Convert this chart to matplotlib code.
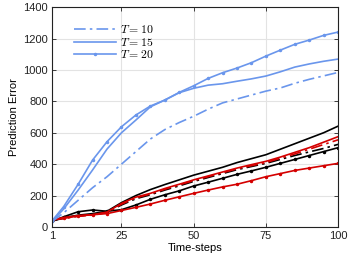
import matplotlib
matplotlib.use("Agg")
import matplotlib.pyplot as plt

t = [1, 5, 10, 15, 20, 25, 30, 35, 40, 45, 50, 55, 60, 65, 70, 75, 80, 85, 90, 95, 100]

blue_T10 = [35, 90, 170, 250, 320, 400, 480, 560, 620, 665, 705, 750, 790, 815, 840, 865, 885, 915, 940, 962, 984]
blue_T15 = [35, 115, 235, 363, 496, 600, 681, 765, 808, 855, 883, 903, 912, 928, 943, 961, 988, 1018, 1038, 1055, 1069]
blue_T20 = [40, 130, 272, 426, 543, 638, 713, 770, 808, 857, 899, 946, 982, 1012, 1046, 1088, 1126, 1163, 1190, 1220, 1241]

black_T10 = [40, 55, 70, 80, 95, 140, 180, 205, 235, 262, 290, 315, 340, 365, 385, 405, 430, 455, 478, 500, 526]
black_T15 = [40, 60, 75, 85, 100, 155, 200, 238, 270, 300, 330, 355, 380, 410, 435, 460, 495, 530, 565, 600, 642]
black_T20 = [35, 65, 97, 108, 100, 110, 140, 176, 205, 230, 261, 285, 310, 335, 357, 380, 405, 430, 455, 480, 505]

red_T10 = [45, 55, 68, 76, 92, 145, 185, 210, 240, 268, 295, 320, 345, 370, 390, 410, 438, 465, 495, 525, 555]
red_T15 = [45, 55, 70, 78, 95, 150, 190, 214, 245, 272, 300, 325, 350, 375, 397, 418, 445, 475, 505, 540, 575]
red_T20 = [45, 60, 72, 78, 85, 105, 125, 146, 170, 192, 214, 235, 255, 272, 295, 320, 340, 360, 375, 390, 405]

labels = ['$T = 10$', '$T = 15$', '$T = 20$']
xticks = [1, 25, 50, 75, 100]
yticks = [0, 200, 400, 600, 800, 1000, 1200, 1400]

plt.rcParams['mathtext.fontset'] = 'cm'
plt.rcParams['font.family'] = ['Liberation Sans', 'DejaVu Sans']

BLUE = '#6a96ec'
RED = '#d40000'
BLACK = '#000000'
DD = (0, (7, 2.5, 1.5, 2.5))

fig = plt.figure(figsize=(3.5, 2.63), dpi=100)
ax = fig.add_axes([0.149, 0.137, 0.817, 0.836])

lw = 1.2
ms = 3
for color, series, lab in [(BLACK, (black_T10, black_T15, black_T20), False),
                           (RED, (red_T10, red_T15, red_T20), False),
                           (BLUE, (blue_T10, blue_T15, blue_T20), True)]:
    ax.plot(t, series[0], color=color, lw=lw, linestyle=DD,
            label=labels[0] if lab else None)
    ax.plot(t, series[1], color=color, lw=lw, linestyle='-',
            label=labels[1] if lab else None)
    ax.plot(t, series[2], color=color, lw=lw, linestyle='-', marker='.',
            markersize=ms, label=labels[2] if lab else None)

ax.set_xlim(1, 100)
ax.set_ylim(0, 1400)
ax.set_xticks(xticks)
ax.set_yticks(yticks)
ax.grid(True, color='#e3e3e3', linewidth=0.8)
ax.set_axisbelow(True)
ax.tick_params(direction='in', top=True, right=True, labelsize=8, length=3,
               width=0.6, colors='#222222', pad=3)
for s in ax.spines.values():
    s.set_linewidth(0.8)
    s.set_color('#222222')
ax.set_xlabel('Time-steps', fontsize=8, labelpad=1)
ax.set_ylabel('Prediction Error', fontsize=8, labelpad=3)

leg = ax.legend(loc='upper left', bbox_to_anchor=(0.05, 0.955), frameon=False,
                fontsize=8.5, handlelength=3.6, handletextpad=0.3,
                labelspacing=0.05, borderaxespad=0.2)

fig.savefig('out.png', dpi=100)
